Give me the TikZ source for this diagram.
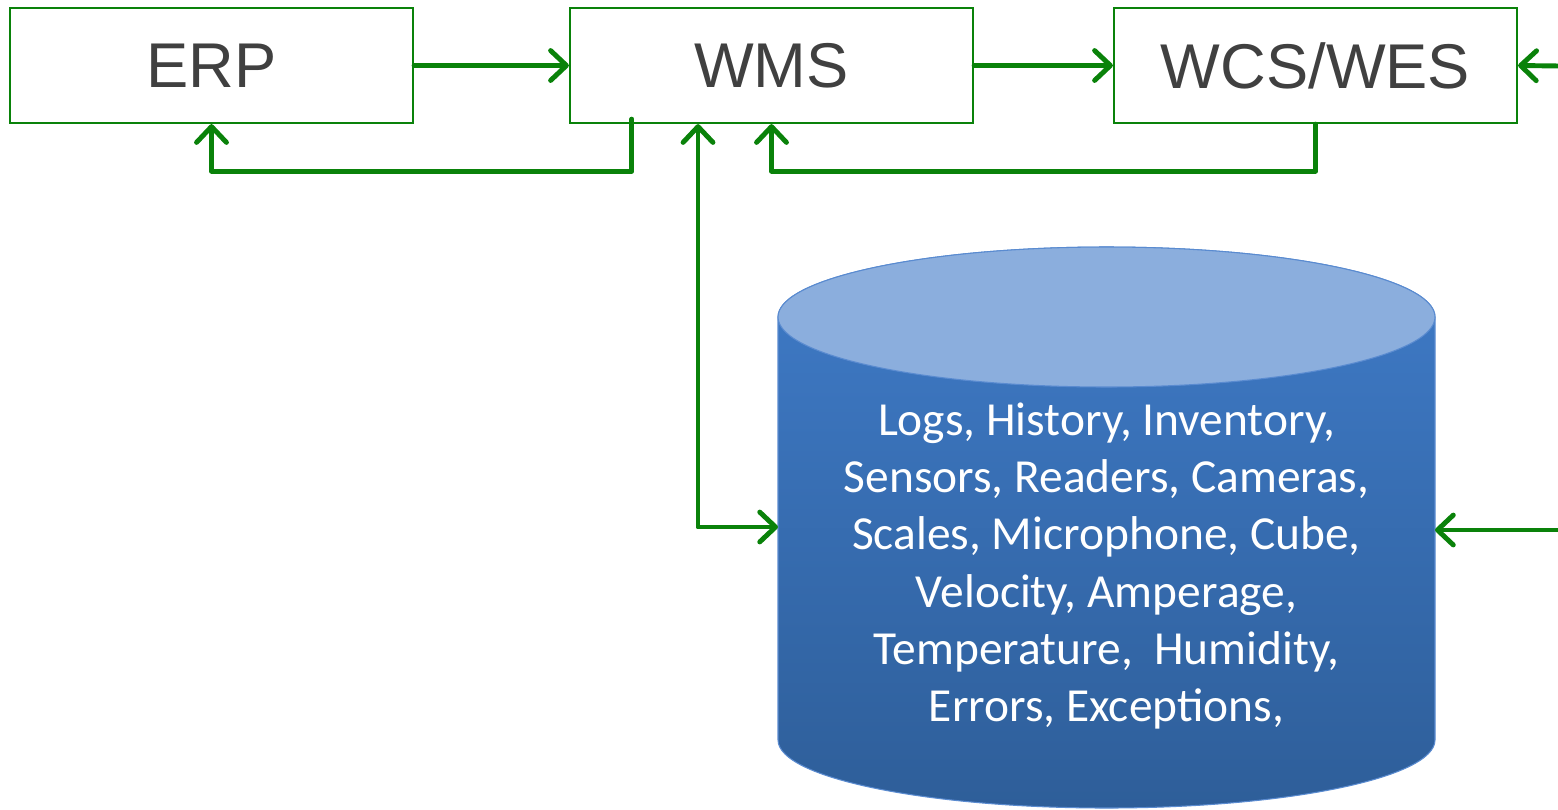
\documentclass[tikz,border=0pt]{standalone}
\usepackage{fontspec}
\setmainfont{Liberation Sans}
\newfontfamily\dbfont{Carlito}
\usetikzlibrary{arrows.meta}

\definecolor{linkgreen}{HTML}{0A820A}
\definecolor{boxtext}{HTML}{404040}
\definecolor{dbtop}{HTML}{8BAEDD}
\definecolor{dbupper}{HTML}{3F7BC8}
\definecolor{dblower}{HTML}{2E5E99}
\definecolor{dbedge}{HTML}{5A8BD0}

\tikzset{
  sysbox/.style={draw=linkgreen, line width=1.3pt, rectangle, fill=white,
    minimum width=8.06cm, minimum height=2.3cm, text=boxtext,
    font=\fontsize{36}{43}\selectfont},
  link/.style={draw=linkgreen, line width=2.8pt, line cap=round, line join=round,
    -{Straight Barb[length=9pt, width=17pt, line width=2.8pt, round]}},
  twolink/.style={link, {Straight Barb[length=9pt, width=17pt, line width=2.8pt, round]}-{Straight Barb[length=9pt, width=17pt, line width=2.8pt, round]}}
}

\begin{document}
\begin{tikzpicture}[x=0.02cm, y=-0.02cm]
        \useasboundingbox (0,0) rectangle (1558,809);

        % Cylinder
        \shade[top color=dbupper, bottom color=dblower, draw=dbedge, line width=0.6pt]
          (778,317) -- (778,740) arc[start angle=180, end angle=0, x radius=328.5, y radius=68]
          -- (1435,317) arc[start angle=0, end angle=-180, x radius=328.5, y radius=70] -- cycle;
        \fill[dbtop] (1106.5,317) ellipse[x radius=328.5, y radius=70];
        \draw[dbedge, line width=0.6pt] (1106.5,317) ellipse[x radius=328.5, y radius=70];
        \node (db) [align=center, text=white, font=\dbfont\fontsize{27}{32.6}\selectfont]
          at (1106.5,566) {Logs, History, Inventory,\\Sensors, Readers, Cameras,\\Scales, Microphone, Cube,\\Velocity, Amperage,\\Temperature,\ \ Humidity,\\Errors, Exceptions,};
        \coordinate (dbL) at (778,527);
        \coordinate (dbR) at (1435,530);

        % Nodes
        \node (erp) [sysbox] at (211.5,65.5) {ERP};
        \node (wms) [sysbox] at (771.5,65.5) {WMS};
        \node (wcs) [sysbox] at (1315.5,65.5) {WCS/WES};
        \coordinate (rtop) at (1560,66);
        \coordinate (rmid) at (1560,530);

        % Edges
        \draw[link] (erp.east) -- (wms.west);
        \draw[link] (wms.east) -- (wcs.west);
        \draw[link] (rtop) -- (wcs.east);
        \draw[link] ([xshift=1.26cm, yshift=0.1cm]wms.south west) -- ++(0,52) -| (erp.south);
        \draw[link] (wcs.south) -- ++(0,47) -| (wms.south);
        \draw[twolink] ([xshift=-1.47cm]wms.south) |- (dbL);
        \draw[link] (rmid) -- (dbR);
    \end{tikzpicture}
\end{document}
